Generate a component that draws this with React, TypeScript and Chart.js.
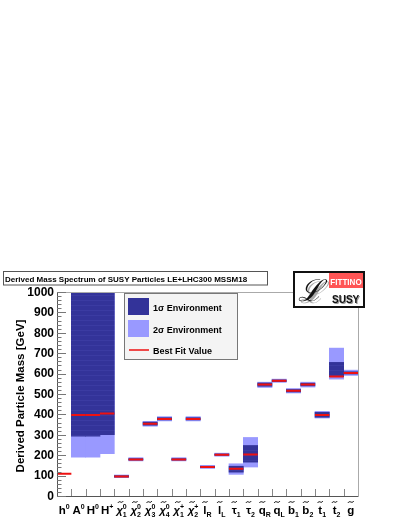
import React, { useEffect, useRef } from "react";
import { Chart, registerables } from "chart.js";

Chart.register(...registerables);

const categories = ["h0", "A0", "H0", "H+", "chi10", "chi20", "chi30", "chi40", "chi1+", "chi2+", "lR", "lL", "tau1", "tau2", "qR", "qL", "b1", "b2", "t1", "t2", "g"];
const labelBase = ["h", "A", "H", "H", "χ", "χ", "χ", "χ", "χ", "χ", "l", "l", "τ", "τ", "q", "q", "b", "b", "t", "t", "g"];
const labelSup = ["0", "0", "0", "+", "0", "0", "0", "0", "+", "+", "", "", "", "", "", "", "", "", "", "", ""];
const labelSub = ["", "", "", "", "1", "2", "3", "4", "1", "2", "R", "L", "1", "2", "R", "L", "1", "2", "1", "2", ""];
const labelTilde = [false, false, false, false, true, true, true, true, true, true, true, true, true, true, true, true, true, true, true, true, true];

const bestFit = [109, 397, 397, 405, 96, 179, 354, 378, 179, 378, 142, 202, 134, 204, 546, 565, 516, 546, 397, 586, 603];
const sigma1Lo = [null, 293, 293, 301, 93, 176, 347, 373, 176, 373, 139, 199, 117, 166, 538, 561, 510, 540, 386, 585, 598];
const sigma1Hi = [null, 1000, 1000, 1000, 100, 183, 362, 384, 183, 384, 146, 206, 146, 248, 554, 569, 522, 553, 410, 655, 609];
const sigma2Lo = [null, 190, 190, 207, 90, 172, 342, 368, 172, 368, 135, 195, 106, 142, 532, 557, 505, 534, 382, 573, 591];
const sigma2Hi = [null, 1000, 1000, 1000, 103, 188, 366, 389, 188, 389, 150, 210, 158, 287, 558, 573, 527, 558, 415, 725, 617];

const yTicks = [0, 100, 200, 300, 400, 500, 600, 700, 800, 900, 1000];
const yMinorStep = 20;

const titleText = "Derived Mass Spectrum of SUSY Particles LE+LHC300 MSSM18";
const yTitle = "Derived Particle Mass [GeV]";
const legendItems = ["1σ Environment", "2σ Environment", "Best Fit Value"];

const DARK = "#333399";
const LIGHT = "#9999ff";
const RED = "#ee1111";
const FONT = '"Liberation Sans", Arial, sans-serif';

function makeStripes(ctx: CanvasRenderingContext2D) {
  const c = document.createElement("canvas");
  c.width = 4;
  c.height = 5;
  const g = c.getContext("2d")!;
  g.fillStyle = DARK;
  g.fillRect(0, 0, 4, 5);
  g.fillStyle = "#3b3ba2";
  g.fillRect(0, 0, 4, 1);
  return ctx.createPattern(c, "repeat") as CanvasPattern;
}

const decorPlugin = {
  id: "decor",
  afterDraw(chart: any) {
    const ctx = chart.ctx as CanvasRenderingContext2D;
    const x = chart.scales.x;
    const y = chart.scales.y;
    const a = chart.chartArea;
    ctx.save();

    // frame
    ctx.strokeStyle = "#aaaaaa";
    ctx.lineWidth = 1;
    ctx.beginPath();
    ctx.moveTo(a.left, a.top + 0.5);
    ctx.lineTo(a.right + 0.5, a.top + 0.5);
    ctx.lineTo(a.right + 0.5, a.bottom);
    ctx.stroke();

    // axes
    ctx.strokeStyle = "#555555";
    ctx.beginPath();
    ctx.moveTo(a.left + 0.5, a.top);
    ctx.lineTo(a.left + 0.5, a.bottom + 0.5);
    ctx.lineTo(a.right + 0.5, a.bottom + 0.5);
    ctx.stroke();

    // y ticks
    ctx.strokeStyle = "#777777";
    ctx.beginPath();
    for (let v = 0; v <= 1000; v += yMinorStep) {
      const py = Math.round(y.getPixelForValue(v)) + 0.5;
      const major = v % 100 === 0;
      ctx.moveTo(a.left, py);
      ctx.lineTo(a.left + (major ? 9 : 4.5), py);
    }
    ctx.stroke();

    // y labels
    ctx.fillStyle = "#000";
    ctx.font = "bold 12px " + FONT;
    ctx.textAlign = "right";
    ctx.textBaseline = "middle";
    yTicks.forEach((v) => {
      ctx.fillText(String(v), a.left - 3, y.getPixelForValue(v) + 0.5);
    });

    // y title
    ctx.save();
    ctx.translate(21, (a.top + a.bottom) / 2 + 2);
    ctx.rotate(-Math.PI / 2);
    ctx.textAlign = "center";
    ctx.textBaseline = "middle";
    ctx.font = "bold 11.5px " + FONT;
    ctx.fillText(yTitle, 0, 0);
    ctx.restore();

    // x ticks
    const n = categories.length;
    const half = (x.getPixelForValue(1) - x.getPixelForValue(0)) / 2;
    ctx.strokeStyle = "#888888";
    ctx.beginPath();
    for (let i = 1; i < n; i++) {
      const px = Math.round(x.getPixelForValue(i) - half) + 0.5;
      ctx.moveTo(px, a.bottom);
      ctx.lineTo(px, a.bottom - 7);
    }
    ctx.stroke();

    // x labels
    const base = 514;
    for (let i = 0; i < n; i++) {
      const cx = x.getPixelForValue(i);
      const isChi = labelBase[i] === "χ";
      const bf = isChi ? "italic bold 11px " + FONT : "bold 11.5px " + FONT;
      ctx.font = bf;
      const bw = ctx.measureText(labelBase[i]).width;
      ctx.font = "bold 7px " + FONT;
      const supW = labelSup[i] ? ctx.measureText(labelSup[i]).width : 0;
      const subW = labelSub[i] ? ctx.measureText(labelSub[i]).width : 0;
      const sw = Math.max(supW, subW);
      const total = bw + (sw ? sw : 0);
      const left = cx - total / 2;
      ctx.textAlign = "left";
      ctx.textBaseline = "alphabetic";
      ctx.fillStyle = "#000";
      ctx.font = bf;
      ctx.fillText(labelBase[i], left, base);
      ctx.font = "bold 7px " + FONT;
      if (labelSup[i]) ctx.fillText(labelSup[i], left + bw, base - 5);
      if (labelSub[i]) ctx.fillText(labelSub[i], left + bw, base + 3);
      if (labelTilde[i]) {
        const tw = Math.max(5, bw * 0.8);
        const tl = left + (bw - tw) / 2 + (isChi ? 1 : 0);
        const ty = 502;
        ctx.strokeStyle = "#000";
        ctx.lineWidth = 1;
        ctx.beginPath();
        ctx.moveTo(tl, ty + 0.8);
        ctx.bezierCurveTo(tl + tw * 0.35, ty - 2.2, tl + tw * 0.65, ty + 2.2, tl + tw, ty - 0.8);
        ctx.stroke();
      }
    }

    // title box
    ctx.fillStyle = "#ffffff";
    ctx.fillRect(3, 271.5, 264, 13.5);
    ctx.strokeStyle = "#555555";
    ctx.lineWidth = 1;
    ctx.strokeRect(3.5, 271.5, 264, 13.5);
    ctx.fillStyle = "#000";
    ctx.font = "bold 8px " + FONT;
    ctx.textAlign = "left";
    ctx.textBaseline = "alphabetic";
    ctx.fillText(titleText, 5, 282);

    // legend
    ctx.fillStyle = "#f4f4f4";
    ctx.fillRect(124.5, 293.5, 113, 66);
    ctx.strokeStyle = "#777777";
    ctx.strokeRect(124.5, 293.5, 113, 66);
    ctx.fillStyle = DARK;
    ctx.fillRect(128, 298, 21, 17);
    ctx.fillStyle = LIGHT;
    ctx.fillRect(128, 320, 21, 17);
    ctx.strokeStyle = RED;
    ctx.lineWidth = 1.5;
    ctx.beginPath();
    ctx.moveTo(129, 350);
    ctx.lineTo(149, 350);
    ctx.stroke();
    ctx.fillStyle = "#000";
    ctx.font = "bold 9px " + FONT;
    ctx.fillText(legendItems[0], 153, 310.5);
    ctx.fillText(legendItems[1], 153, 332.5);
    ctx.fillText(legendItems[2], 153, 354);

    // logo
    ctx.fillStyle = "#ffffff";
    ctx.fillRect(294, 272, 70, 35);
    ctx.strokeStyle = "#111111";
    ctx.lineWidth = 2;
    ctx.strokeRect(294, 272, 70, 35);
    ctx.fillStyle = "#ff5555";
    ctx.fillRect(329, 273, 34, 15);
    ctx.fillStyle = "#ffffff";
    ctx.save();
    ctx.translate(346, 285);
    ctx.scale(0.85, 1);
    ctx.font = "bold 9.5px " + FONT;
    ctx.textAlign = "center";
    ctx.fillText("FITTINO", 0, 0);
    ctx.restore();
    ctx.font = 'italic 30px "DejaVu Serif", serif';
    ctx.textAlign = "left";
    ctx.fillStyle = "#aaaaaa";
    ctx.fillText("ℒ", 300, 303);
    ctx.fillStyle = "#111111";
    ctx.fillText("ℒ", 298, 301);
    ctx.font = "bold 10px " + FONT;
    ctx.fillStyle = "#999999";
    ctx.fillText("SUSY", 333, 304);
    ctx.fillStyle = "#111111";
    ctx.fillText("SUSY", 332, 303);

    ctx.restore();
  },
};

export default function App() {
  const ref = useRef<HTMLCanvasElement | null>(null);
  useEffect(() => {
    if (!ref.current) return;
    const range = (lo: (number | null)[], hi: (number | null)[]) =>
      lo.map((l, i) => (l == null || hi[i] == null ? null : [l, hi[i] as number]));
    const ctx2d = ref.current.getContext("2d")!;
    const chart = new Chart(ref.current, {
      type: "bar",
      data: {
        labels: categories,
        datasets: [
          {
            type: "line",
            label: "Best Fit Value",
            data: bestFit,
            showLine: false,
            pointStyle: "line",
            pointRadius: 7.2,
            pointHoverRadius: 7.2,
            borderColor: RED,
            backgroundColor: RED,
            borderWidth: 2,
            order: 0,
          } as any,
          {
            label: "1σ Environment",
            data: range(sigma1Lo, sigma1Hi) as any,
            backgroundColor: makeStripes(ctx2d),
            borderWidth: 0,
            grouped: false,
            barPercentage: 1,
            categoryPercentage: 1,
            order: 1,
          },
          {
            label: "2σ Environment",
            data: range(sigma2Lo, sigma2Hi) as any,
            backgroundColor: LIGHT,
            borderWidth: 0,
            grouped: false,
            barPercentage: 1,
            categoryPercentage: 1,
            order: 2,
          },
        ],
      },
      options: {
        responsive: false,
        animation: false,
        events: [],
        layout: { padding: { left: 57, right: 49, top: 292, bottom: 31 } },
        plugins: { legend: { display: false }, tooltip: { enabled: false }, title: { display: false } },
        scales: {
          x: { display: false, offset: true },
          y: { display: false, min: 0, max: 1000 },
        },
      },
      plugins: [decorPlugin],
    });
    return () => chart.destroy();
  }, []);
  return (
    <div style={{ position: "absolute", left: 0, top: 0, width: 407, height: 527, background: "#fff" }}>
      <canvas ref={ref} width={407} height={527} style={{ display: "block" }} />
    </div>
  );
}
